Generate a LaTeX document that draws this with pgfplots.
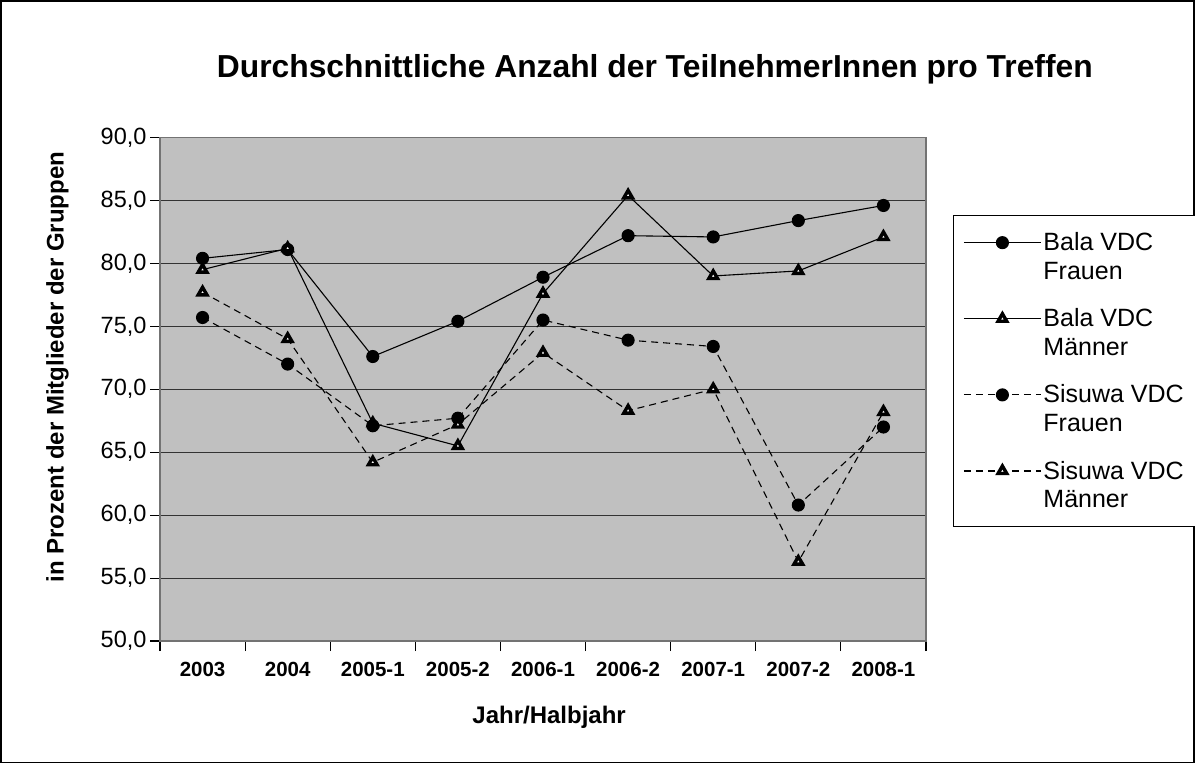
\documentclass[border=0pt]{standalone}
\usepackage{pgfplots}
\pgfplotsset{compat=1.18}
\usepackage{fontspec}
\setmainfont{Liberation Sans}
\definecolor{bgray}{RGB}{192,192,192}

\begin{document}
\begin{tikzpicture}
\draw[black, line width=1.2pt] (1pt,1.5pt) rectangle (1194pt,763pt);
\begin{axis}[
  at={(160pt,123pt)}, anchor=south west,
  scale only axis, width=766pt, height=503.5pt,
  xmin=-0.5, xmax=8.5, ymin=50, ymax=90,
  axis background/.style={fill=bgray},
  axis line style={draw=black!55, line width=1.5pt},
  xtick={-0.5,0.5,...,8.5},
  x tick label as interval,
  xticklabels={2003,2004,2005-1,2005-2,2006-1,2006-2,2007-1,2007-2,2008-1},
  ytick={50,55,...,90},
  ytick pos=left, xtick pos=bottom,
  tick align=outside,
  major tick length=10pt,
  tick style={black, line width=1.1pt},
  ymajorgrids,
  grid style={black!80, line width=1.1pt},
  /pgf/number format/.cd, fixed, fixed zerofill, precision=1, use comma, assume math mode=true, 1000 sep={},
  /pgfplots/.cd,
  y tick label style={font=\fontsize{23.5}{28}\selectfont},
  x tick label style={font=\fontsize{20.5}{24}\selectfont\bfseries, yshift=-8pt},
  title={Durchschnittliche Anzahl der TeilnehmerInnen pro Treffen},
  title style={font=\fontsize{31.8}{36}\selectfont\bfseries, at={(axis description cs:0.646,1.124)}, anchor=center},
  xlabel={Jahr/Halbjahr},
  xlabel style={font=\fontsize{24}{28}\selectfont\bfseries, at={(axis description cs:0.508,-0.151)}, anchor=center},
  ylabel={in Prozent der Mitglieder der Gruppen},
  ylabel style={font=\fontsize{24}{28}\selectfont\bfseries, at={(axis description cs:-0.134,0.544)}, anchor=center},
  legend style={at={(axis description cs:1.035,0.846)}, anchor=north west,
    draw=black, line width=1.1pt, fill=white,
    font=\fontsize{25}{28.5}\selectfont,
    cells={anchor=west, align=left},
    row sep=24pt, inner xsep=10pt, inner ysep=15pt},
  legend image code/.code={\draw[mark repeat=2,mark phase=2] plot coordinates {(0pt,14pt)(38.5pt,14pt)(77pt,14pt)};},
  every axis plot/.append style={line width=1.1pt, black},
  tri/.style={mark=triangle*, mark size=5pt, mark options={solid, fill=white, draw=black, line width=3.4pt}},
  dot/.style={mark=*, mark size=6pt, mark options={solid, fill=black}},
]
\addplot[solid, dot] coordinates {
(0,80.4) (1,81.1) (2,72.6) (3,75.4) (4,78.9) (5,82.2) (6,82.1) (7,83.4) (8,84.6)};
\addlegendentry{Bala VDC\\Frauen}
\addplot[solid, tri] coordinates {
(0,79.5) (1,81.2) (2,67.3) (3,65.5) (4,77.6) (5,85.4) (6,79.0) (7,79.4) (8,82.1)};
\addlegendentry{Bala VDC\\Männer}
\addplot[dash pattern=on 7pt off 5pt, dot] coordinates {
(0,75.7) (1,72.0) (2,67.1) (3,67.7) (4,75.5) (5,73.9) (6,73.4) (7,60.8) (8,67.0)};
\addlegendentry{Sisuwa VDC\\Frauen}
\addplot[dash pattern=on 7pt off 5pt, tri] coordinates {
(0,77.7) (1,74.0) (2,64.2) (3,67.2) (4,72.9) (5,68.3) (6,70.0) (7,56.3) (8,68.2)};
\addlegendentry{Sisuwa VDC\\Männer}
\end{axis}
\pgfresetboundingbox
\useasboundingbox (0,0) rectangle (1195pt,764pt);
\end{tikzpicture}
\end{document}
